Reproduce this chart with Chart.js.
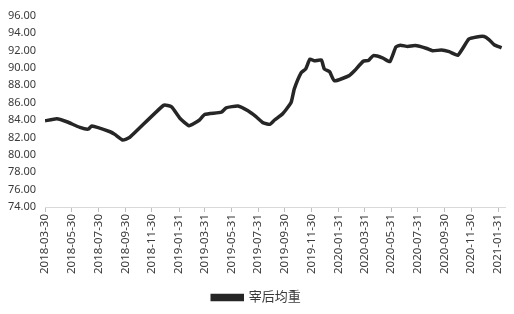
<!DOCTYPE html>
<html>
<head>
<meta charset="utf-8">
<script src="https://cdn.jsdelivr.net/npm/chart.js@4"></script>
<style>
  html, body { margin: 0; padding: 0; background: #fff; }
  canvas { display: block; }
</style>
</head>
<body>
<canvas id="chart" width="514" height="314"></canvas>
<script>
var seriesName = "宰后均重";

var dates = ["2018-03-30", "2018-04-26", "2018-05-19", "2018-06-18", "2018-07-07", "2018-07-15",
    "2018-08-26", "2018-09-06", "2018-09-24", "2018-10-10", "2018-12-27", "2019-01-14",
    "2019-02-02", "2019-02-23", "2019-03-19", "2019-03-31", "2019-05-08", "2019-05-19",
    "2019-06-15", "2019-07-08", "2019-07-27", "2019-08-11", "2019-08-27", "2019-09-07",
    "2019-09-26", "2019-10-15", "2019-10-22", "2019-11-07", "2019-11-17", "2019-11-27",
    "2019-12-07", "2019-12-23", "2019-12-30", "2020-01-11", "2020-01-22", "2020-02-25",
    "2020-03-08", "2020-03-28", "2020-04-09", "2020-04-20", "2020-05-11", "2020-05-28",
    "2020-06-11", "2020-06-21", "2020-07-08", "2020-07-25", "2020-08-19", "2020-09-03",
    "2020-09-23", "2020-10-11", "2020-10-31", "2020-11-25", "2020-12-13", "2020-12-30",
    "2021-01-10", "2021-01-22", "2021-02-08"];

var values = [83.9, 84.15, 83.8, 83.15, 82.95, 83.3,
    82.65, 82.35, 81.7, 82.0, 85.7, 85.5,
    84.2, 83.35, 84.0, 84.65, 84.9, 85.4,
    85.6, 85.05, 84.35, 83.7, 83.5, 84.0,
    84.75, 86.05, 87.55, 89.45, 89.85, 91.0,
    90.8, 90.9, 89.85, 89.55, 88.5, 89.1,
    89.65, 90.75, 90.85, 91.4, 91.15, 90.7,
    92.4, 92.6, 92.45, 92.55, 92.25, 91.95,
    92.05, 91.85, 91.45, 93.3, 93.55, 93.6,
    93.25, 92.65, 92.3];

var tickLabels = ["2018-03-30", "2018-05-30", "2018-07-30", "2018-09-30", "2018-11-30",
    "2019-01-31", "2019-03-31", "2019-05-31", "2019-07-31", "2019-09-30", "2019-11-30",
    "2020-01-31", "2020-03-31", "2020-05-31", "2020-07-31", "2020-09-30", "2020-11-30",
    "2021-01-31"];

var yTicks = [74, 76, 78, 80, 82, 84, 86, 88, 90, 92, 94, 96];

function toDay(s) {
    var p = s.split("-");
    var t = Date.UTC(parseInt(p[0]), parseInt(p[1]) - 1, parseInt(p[2]));
    var t0 = Date.UTC(2018, 2, 30);
    return Math.round((t - t0) / 86400000);
};

var points = [];
for (var i = 0; i < dates.length; i++) {
    points.push({ x: toDay(dates[i]), y: values[i] });
};

var textColor = "#3a3a3a";
var fontFamily = "'Noto Sans', 'Noto Sans CJK SC', sans-serif";

var ctx = document.getElementById("chart").getContext("2d");
new Chart(ctx, {
    type: "line",
    data: {
        datasets: [{
            label: seriesName,
            data: points,
            borderColor: "#262626",
            backgroundColor: "#262626",
            borderWidth: 3.5,
            pointRadius: 0,
            tension: 0.15,
            fill: false
        }]
    },
    options: {
        responsive: false,
        animation: false,
        devicePixelRatio: 1,
        layout: { padding: { top: 8, right: 7, left: 6, bottom: 0 } },
        plugins: {
            tooltip: { enabled: false },
            legend: {
                position: "bottom",
                labels: {
                    color: textColor,
                    font: { family: fontFamily, size: 13 },
                    boxWidth: 30,
                    boxHeight: 4,
                    padding: 2
                }
            }
        },
        scales: {
            x: {
                type: "linear",
                min: 0,
                max: 1056,
                afterBuildTicks: function (axis) {
                    axis.ticks = tickLabels.map(function (s) { return { value: toDay(s) }; });
                },
                afterFit: function (scale) { scale.height = 82; },
                grid: {
                    drawOnChartArea: false,
                    color: "#bfbfbf",
                    tickLength: 5
                },
                border: { color: "#d9d9d9" },
                ticks: {
                    autoSkip: false,
                    maxRotation: 90,
                    minRotation: 90,
                    color: textColor,
                    font: { family: fontFamily, size: 11.5 },
                    padding: 2,
                    callback: function (value, index) {
                        return tickLabels[index];
                    }
                }
            },
            y: {
                min: 74,
                max: 96,
                afterBuildTicks: function (axis) {
                    axis.ticks = yTicks.map(function (v) { return { value: v }; });
                },
                afterFit: function (scale) { scale.width = 39; },
                grid: { display: false, drawTicks: false },
                border: { display: false },
                ticks: {
                    autoSkip: false,
                    color: textColor,
                    font: { family: fontFamily, size: 11 },
                    padding: 9,
                    callback: function (value) { return value.toFixed(2); }
                }
            }
        }
    }
});
</script>
</body>
</html>
